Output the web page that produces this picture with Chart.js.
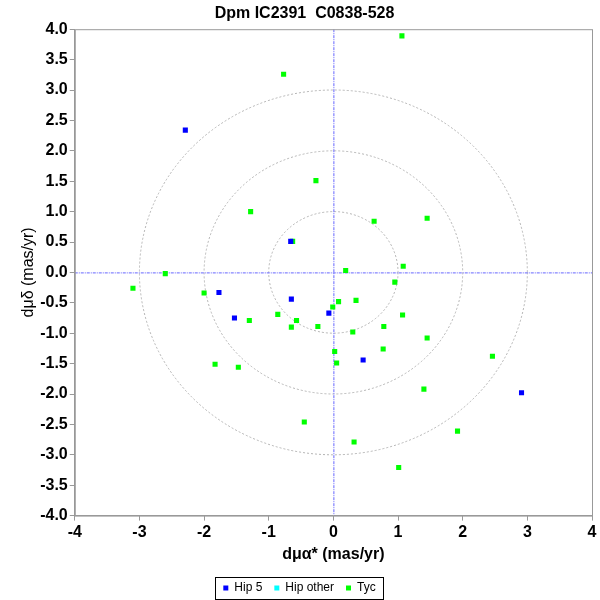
<!DOCTYPE html>
<html>
<head>
<meta charset="utf-8">
<script src="https://cdn.jsdelivr.net/npm/chart.js@4.4.0/dist/chart.umd.min.js"></script>
<style>
  html, body { margin: 0; padding: 0; background: #fff; }
  #wrap { width: 600px; height: 600px; }
</style>
</head>
<body>
<div id="wrap"><canvas id="pmChart"></canvas></div>
<script>
// Proper motion offsets, mas/yr
const hip5X = [-2.29, -0.66, -1.77, -0.65, -0.07, -1.53, 0.46, 2.91];
const hip5Y = [2.34, 0.51, -0.33, -0.44, -0.67, -0.75, -1.44, -1.98];
const hipOtherX = [];
const hipOtherY = [];
const tycX = [-0.77, -0.27, -1.28, -0.63, -2.60, 1.06, 0.63, 1.45, 1.08, 0.19,
              -3.10, -2.00, 0.08, -0.01, -0.86, -1.30, -0.57, -0.65, -0.24, 0.02,
              0.05, -1.83, -1.47, -0.45, 0.95, 0.35, 1.07, 0.78, 0.30, 1.45,
              0.77, 2.46, 1.40, 1.92, 0.32, 1.01];
const tycY = [3.26, 1.51, 1.00, 0.51, -0.02, 3.89, 0.84, 0.89, 0.10, 0.03,
              -0.26, -0.34, -0.48, -0.57, -0.69, -0.79, -0.79, -0.90, -0.89, -1.30,
              -1.49, -1.51, -1.56, -2.46, -0.16, -0.46, -0.70, -0.89, -0.98, -1.08,
              -1.26, -1.38, -1.92, -2.61, -2.79, -3.21];
const circleRadii = [1, 2, 3];
const xTicks = [-4, -3, -2, -1, 0, 1, 2, 3, 4];
const yTicks = [-4, -3.5, -3, -2.5, -2, -1.5, -1, -0.5, 0, 0.5, 1, 1.5, 2, 2.5, 3, 3.5, 4];

function toPoints(xs, ys) {
    return xs.map((x, i) => ({ x: x, y: ys[i] }));
}

// circles, zero lines and plot frame
const guidesPlugin = {
    id: 'guides',
    afterLayout(chart) {
        // legend sits centred on the canvas, not on the padded box
        const lg = chart.legend;
        if (!lg) return;
        lg.left -= 5;
        lg.right -= 5;
    },
    beforeDatasetsDraw(chart) {
        const { ctx, chartArea: a, scales: { x, y } } = chart;
        const cx = x.getPixelForValue(0);
        const cy = y.getPixelForValue(0);
        ctx.save();
        ctx.beginPath();
        ctx.rect(a.left, a.top, a.right - a.left, a.bottom - a.top);
        ctx.clip();

        ctx.strokeStyle = '#b4b4b4';
        ctx.lineWidth = 1;
        ctx.setLineDash([2, 2]);
        circleRadii.forEach(r => {
            const rx = Math.abs(x.getPixelForValue(r) - cx);
            const ry = Math.abs(y.getPixelForValue(r) - cy);
            ctx.beginPath();
            ctx.ellipse(cx, cy, rx, ry, 0, 0, Math.PI * 2);
            ctx.stroke();
        });

        ctx.strokeStyle = '#6666ff';
        ctx.setLineDash([3, 1, 1, 1]);
        ctx.beginPath();
        ctx.moveTo(a.left, cy + 0.5);
        ctx.lineTo(a.right, cy + 0.5);
        ctx.moveTo(cx + 0.5, a.top);
        ctx.lineTo(cx + 0.5, a.bottom);
        ctx.stroke();
        ctx.restore();

        ctx.save();
        ctx.strokeStyle = '#999999';
        ctx.lineWidth = 1;
        ctx.strokeRect(a.left + 0.5, a.top + 0.5, a.right - a.left, a.bottom - a.top);
        ctx.restore();
    },
    afterDraw(chart) {
        // border round the legend items
        const boxes = chart.legend && chart.legend.legendHitBoxes;
        if (!boxes || !boxes.length) return;
        const left = Math.min(...boxes.map(b => b.left));
        const right = Math.max(...boxes.map(b => b.left + b.width));
        const top = Math.min(...boxes.map(b => b.top));
        const bottom = Math.max(...boxes.map(b => b.top + b.height));
        const ctx = chart.ctx;
        ctx.save();
        ctx.strokeStyle = '#000';
        ctx.lineWidth = 1;
        ctx.strokeRect(Math.round(left - 8) + 0.5, Math.round(top - 5) + 0.5,
                       Math.round(right - left + 16), Math.round(bottom - top + 10));
        ctx.restore();
    }
};

const ctx = document.getElementById('pmChart').getContext('2d');
const pmChart = new Chart(ctx, {
    type: 'scatter',
    data: {
        datasets: [
            {
                label: 'Hip 5',
                data: toPoints(hip5X, hip5Y),
                backgroundColor: '#0000ff',
                borderWidth: 0,
                pointStyle: 'rect',
                pointRadius: 3.6
            },
            {
                label: 'Hip other',
                data: toPoints(hipOtherX, hipOtherY),
                backgroundColor: '#00ffff',
                borderWidth: 0,
                pointStyle: 'rect',
                pointRadius: 3.6
            },
            {
                label: 'Tyc',
                data: toPoints(tycX, tycY),
                backgroundColor: '#00ff00',
                borderWidth: 0,
                pointStyle: 'rect',
                pointRadius: 3.6
            }
        ]
    },
    options: {
        responsive: true,
        maintainAspectRatio: false,
        animation: false,
        layout: {
            padding: { top: 0, right: 8, left: 17, bottom: -4 }
        },
        plugins: {
            title: {
                display: true,
                text: 'Dpm IC2391  C0838-528',
                color: '#000',
                font: { family: 'Liberation Sans', size: 16, weight: 'bold' },
                padding: { top: 4, bottom: 6 }
            },
            legend: {
                position: 'bottom',
                labels: {
                    usePointStyle: true,
                    pointStyle: 'rect',
                    boxWidth: 5,
                    boxHeight: 5,
                    padding: 12,
                    color: '#000',
                    font: { family: 'Liberation Sans', size: 12 }
                }
            },
            tooltip: { enabled: false }
        },
        scales: {
            x: {
                type: 'linear',
                min: -4,
                max: 4,
                afterBuildTicks: axis => { axis.ticks = xTicks.map(v => ({ value: v })); },
                ticks: {
                    color: '#000',
                    font: { family: 'Liberation Sans', size: 16, weight: 'bold' },
                    padding: 2
                },
                grid: { drawOnChartArea: false, color: '#999', tickLength: 5 },
                border: { color: '#999' },
                title: {
                    display: true,
                    text: 'dμα* (mas/yr)',
                    color: '#000',
                    font: { family: 'Liberation Sans', size: 16, weight: 'bold' },
                    padding: { top: 1, bottom: 6 }
                }
            },
            y: {
                type: 'linear',
                min: -4,
                max: 4,
                afterBuildTicks: axis => { axis.ticks = yTicks.map(v => ({ value: v })); },
                ticks: {
                    color: '#000',
                    font: { family: 'Liberation Sans', size: 16, weight: 'bold' },
                    padding: 2,
                    callback: v => v.toFixed(1)
                },
                grid: { drawOnChartArea: false, color: '#999', tickLength: 5 },
                border: { color: '#999' },
                title: {
                    display: true,
                    text: 'dμδ (mas/yr)',
                    color: '#000',
                    font: { family: 'Liberation Sans', size: 16 },
                    padding: { top: 2, bottom: 0 }
                }
            }
        }
    },
    plugins: [guidesPlugin]
});
</script>
</body>
</html>
